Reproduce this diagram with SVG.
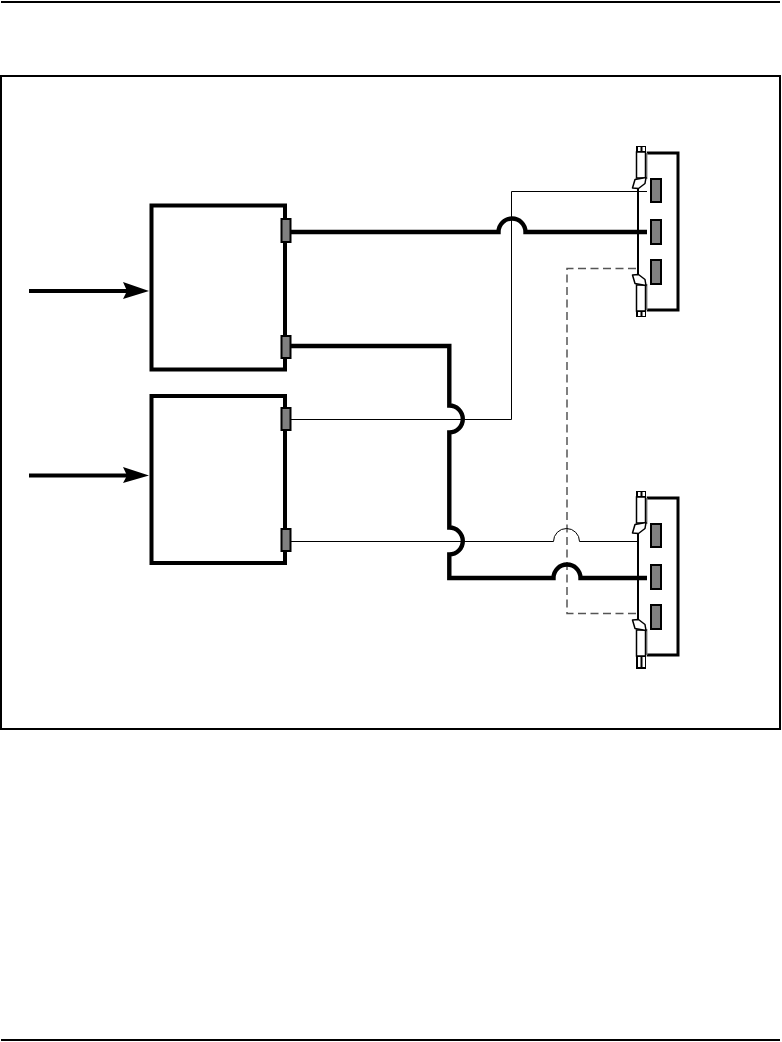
<svg xmlns="http://www.w3.org/2000/svg" width="782" height="1042" viewBox="0 0 782 1042">
<style>
.box{fill:#fff;stroke:#000;stroke-width:4}
.port{fill:#808080;stroke:#000;stroke-width:2}
.thick{fill:none;stroke:#000;stroke-width:4.400}
.thin{fill:none;stroke:#000;stroke-width:1}
.dash{fill:none;stroke:#555;stroke-width:1.500;stroke-dasharray:8 4.500}
.card{fill:#fff;stroke:#000;stroke-width:3}
.latch{fill:#fff;stroke:#000;stroke-width:1.500}
.bar{fill:none;stroke:#000;stroke-width:2}
</style>
<defs>
<g id="latchShape">
<path d="M646.500 0V26" stroke="#888" stroke-width="2" fill="none"/>
<path class="latch" d="M636.500 -1H645.500V25H636.500Z"/>
<path fill="#000" d="M636 -7H646V-1H636Z"/>
<path fill="#fff" d="M638 -6H640.500V-2H638ZM642.500 -6H645V-2H642.500Z"/>
<path class="latch" stroke-width="2" stroke-linejoin="round" d="M635 26.500L646 24.500L645 30.500L638.500 35.500L632.500 35Z"/>
</g>
<g id="cardShape">
<path class="card" d="M647 0H678V157H647"/>
<path class="bar" d="M638 30V130"/>
<rect class="port" x="651" y="26" width="10" height="23"/>
<rect class="port" x="651" y="67" width="10" height="24"/>
<rect class="port" x="651" y="107" width="10" height="24"/>
<use href="#latchShape"/>
<use href="#latchShape" transform="translate(0,157) scale(1,-1)"/>
</g>
</defs>
<path d="M1 2H780M1 1040H780" stroke="#000" stroke-width="2" fill="none"/>
<rect x="1" y="76" width="779" height="653" fill="none" stroke="#000" stroke-width="2"/>
<g id="connectors">
<path class="dash" d="M636 268.500H567V613.500H636"/>
<path class="thin" d="M286 419.500H511.500V191.500H650"/>
<path class="thin" d="M291 541.500H553.500A13 13 0 0 1 579.500 541.500H638"/>
<path class="thick" d="M291 232H498.500A13.500 13.500 0 0 1 525.500 232H650"/>
<path class="thick" d="M291 346H449.300V405.500A13.500 13.500 0 0 1 449.300 432.500V527.500A13.500 13.500 0 0 1 449.300 554.500V578H553.500A13.500 13.500 0 0 1 580.500 578H650"/>
<path d="M29 291H128M29 475.500H128" stroke="#000" stroke-width="4" fill="none"/>
<path d="M123 282L149 291L123 299L127 291Z"/>
<path d="M123 467L149 475.500L123 483L127 475.500Z"/>
</g>
<g id="box1">
<rect class="box" x="151.500" y="205.500" width="133.500" height="164"/>
<rect class="port" x="281.500" y="219" width="9" height="23"/>
<rect class="port" x="281.500" y="336" width="9" height="22"/>
</g>
<g id="box2">
<rect class="box" x="151.500" y="396" width="133.500" height="167"/>
<rect class="port" x="281.500" y="408" width="9" height="22"/>
<rect class="port" x="281.500" y="529" width="9" height="22"/>
</g>
<g id="card1"><use href="#cardShape" transform="translate(0,153)"/></g>
<g id="card2"><use href="#cardShape" transform="translate(0,498)"/><path fill="#000" d="M636 661H646V669H636Z"/><path fill="#fff" d="M638 661H640.500V667H638ZM642.500 661H645V667H642.500Z"/></g>
</svg>
